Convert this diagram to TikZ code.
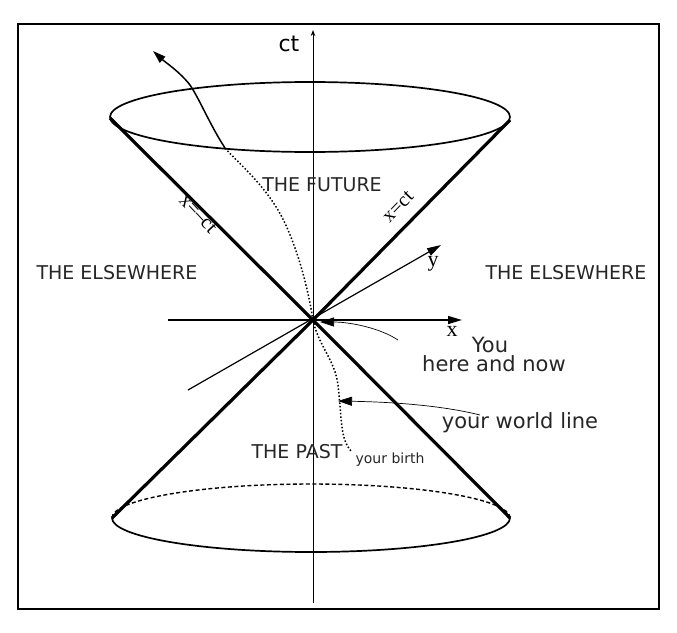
\documentclass[tikz,border=0pt]{standalone}
\usepackage{fontspec}
\setmainfont{DejaVu Sans}
\newfontfamily\serf{Liberation Serif}
\usetikzlibrary{arrows.meta}
\begin{document}
\begin{tikzpicture}[x=1pt,y=-1pt,
  cone/.style={line width=3.2pt},
  thin/.style={line width=0.9pt},
  lab/.style={font=\fontsize{19}{19}\selectfont,text=black!85,inner sep=0},
  ptr/.style={line width=0.7pt,-{Triangle[length=14pt,width=9pt]}}]
\useasboundingbox (0,0) rectangle (677,632);
\draw[line width=2.5pt] (18,24) rectangle (659,609);
\coordinate (O) at (313,320);
% axes
\draw[thin,-{Stealth[length=6pt]}] (313,603) -- (313,30);
\node[font=\fontsize{22}{22}\selectfont] (ct) at (289,44) {ct};
\draw[line width=1.4pt,-{Triangle[length=14pt,width=8pt]}] (168,320) -- (462,320);
\node[font=\serf\fontsize{22}{22}\selectfont] (xl) at (452,331) {x};
\draw[line width=1.2pt,-{Triangle[length=14pt,width=8pt]}] (188,390) -- (441,245);
\node[font=\serf\fontsize{22}{22}\selectfont] (yl) at (433,264) {y};
% cones
\draw[line width=1.7pt] (310,117) ellipse (200 and 35);
\draw[cone] (110,118) -- (O) -- (510,120);
\draw[cone] (112,518) -- (O) -- (510,518);
\draw[line width=1.7pt] (112,518) arc (180:0:199 and 34);
\draw[line width=1.4pt,dash pattern=on 4pt off 2.5pt] (112,518) arc (180:360:199 and 34);
% world line
\draw[line width=1.5pt,dotted] (O) .. controls (305,270) and (290,230) .. (278,210) .. controls (260,180) and (235,160) .. (225,148);
\draw[line width=1.5pt,-{Triangle[length=13pt,width=8pt]}] (225,148) .. controls (210,125) and (200,100) .. (190,85) .. controls (180,72) and (165,62) .. (153,51);
\draw[line width=1.5pt,dotted] (O) .. controls (318,345) and (335,360) .. (338,385) .. controls (342,420) and (340,440) .. (352,452);
% labels
\node[lab] (fut) at (322,185) {THE FUTURE};
\node[lab] (elL) at (117,273) {THE ELSEWHERE};
\node[lab] (elR) at (566,273) {THE ELSEWHERE};
\node[lab] (past) at (297,452) {THE PAST};
\node[font=\fontsize{14}{14}\selectfont,text=black!85] (birth) at (390,460) {your birth};
\node[font=\fontsize{21}{21}\selectfont,text=black!85,inner sep=0] (you) at (490,345) {You};
\node[font=\fontsize{21}{21}\selectfont,text=black!85,inner sep=0] (hn) at (494,364) {here and now};
\node[font=\fontsize{21}{21}\selectfont,text=black!85,inner sep=0] (wl) at (520,423) {your world line};
\node[font=\serf\fontsize{20}{20}\selectfont,rotate=-47,inner sep=0] (xmct) at (198,214) {x=–ct};
\node[font=\serf\fontsize{20}{20}\selectfont,rotate=46,inner sep=0] (xct) at (398,207) {x=ct};
% pointers
\coordinate (p1) at (398,340);
\coordinate (p2) at (480,415);
\draw[ptr] (p1) .. controls (380,328) and (350,322) .. (320,322);
\draw[ptr] (p2) .. controls (440,405) and (390,402) .. (338,401);
\end{tikzpicture}
\end{document}
